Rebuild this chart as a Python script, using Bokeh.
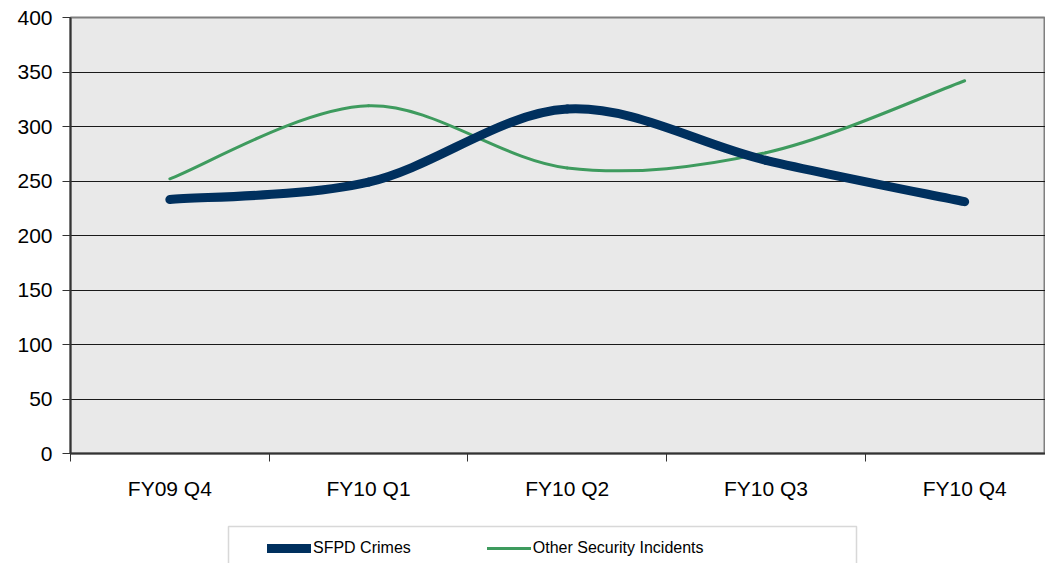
from bokeh.plotting import figure
from bokeh.layouts import column
from bokeh.models import (Range1d, FixedTicker, LinearAxis, Legend, LegendItem,
                          BoxAnnotation, ColumnDataSource)
from bokeh.embed import file_html
from bokeh.resources import INLINE

categories = ["FY09 Q4", "FY10 Q1", "FY10 Q2", "FY10 Q3", "FY10 Q4"]
sfpd_crimes = [233, 249, 316, 269, 231]
other_incidents = [252, 319, 262, 276, 342]
y_ticks = [0, 50, 100, 150, 200, 250, 300, 350, 400]
series_names = ["SFPD Crimes", "Other Security Incidents"]

SFPD_COLOR = "#00305E"
OTHER_COLOR = "#3E9B5E"
FONT = "'Liberation Sans', Arial, sans-serif"
AXFONT = "'Liberation Sans', Arial, sans-serif"


def smooth_segments(ys):
    """Bezier control points (Excel-like smoothing) in data space."""
    n = len(ys)
    xs = list(range(n))
    d = dict(x0=[], y0=[], x1=[], y1=[], cx0=[], cy0=[], cx1=[], cy1=[])
    for i in range(n - 1):
        im = max(i - 1, 0)
        ip = min(i + 2, n - 1)
        d["x0"].append(xs[i]); d["y0"].append(ys[i])
        d["x1"].append(xs[i + 1]); d["y1"].append(ys[i + 1])
        d["cx0"].append(xs[i] + (xs[i + 1] - xs[im]) / 6)
        d["cy0"].append(ys[i] + (ys[i + 1] - ys[im]) / 6)
        d["cx1"].append(xs[i + 1] - (xs[ip] - xs[i]) / 6)
        d["cy1"].append(ys[i + 1] - (ys[ip] - ys[i]) / 6)
    return ColumnDataSource(d)


W = 1045
H1, H2 = 520, 43
LEFT, TOP = 70, 17
FRAME_BOTTOM = 453
frame_w = W - LEFT
px_per_cat = 198.7

p = figure(width=W, height=H1, output_backend="svg", toolbar_location=None,
           x_range=Range1d(-0.5, -0.5 + frame_w / px_per_cat), y_range=Range1d(0, 400),
           x_axis_type=None, min_border_left=LEFT, min_border_right=0,
           min_border_top=TOP, min_border_bottom=H1 - FRAME_BOTTOM)

p.background_fill_color = "#E9E9E9"
p.border_fill_color = "white"
p.outline_line_color = "#7F7F7F"
p.outline_line_width = 2

# y axis
ya = p.yaxis[0]
ya.ticker = FixedTicker(ticks=y_ticks)
ya.axis_line_color = "#333333"
ya.axis_line_width = 2
ya.major_tick_line_color = "#333333"
ya.major_tick_out = 8
ya.major_tick_in = 0
ya.minor_tick_line_color = None
ya.major_label_standoff = 10
ya.major_label_text_font = AXFONT
ya.major_label_text_font_size = "21px"
ya.major_label_text_color = "black"

# x axis
xa = LinearAxis(ticker=FixedTicker(ticks=list(range(len(categories))),
                                   minor_ticks=[i - 0.5 for i in range(len(categories) + 1)]))
xa.major_label_overrides = {i: c for i, c in enumerate(categories)}
xa.axis_line_color = "#333333"
xa.axis_line_width = 2
xa.major_tick_line_color = None
xa.major_tick_out = 0
xa.major_tick_in = 0
xa.minor_tick_line_color = "#333333"
xa.minor_tick_out = 8
xa.minor_tick_in = 0
xa.major_label_standoff = 15
xa.major_label_text_font = AXFONT
xa.major_label_text_font_size = "21px"
xa.major_label_text_color = "black"
p.add_layout(xa, "below")

p.xgrid.grid_line_color = None
p.ygrid.ticker = FixedTicker(ticks=y_ticks[1:-1])
p.ygrid.grid_line_color = "#1A1A1A"
p.ygrid.grid_line_width = 1

p.bezier(x0="x0", y0="y0", x1="x1", y1="y1", cx0="cx0", cy0="cy0",
         cx1="cx1", cy1="cy1", source=smooth_segments(other_incidents),
         line_color=OTHER_COLOR, line_width=3, line_cap="round")
p.bezier(x0="x0", y0="y0", x1="x1", y1="y1", cx0="cx0", cy0="cy0",
         cx1="cx1", cy1="cy1", source=smooth_segments(sfpd_crimes),
         line_color=SFPD_COLOR, line_width=9, line_cap="round")

# legend strip
p2 = figure(width=W, height=H2, output_backend="svg", toolbar_location=None,
            x_range=Range1d(0, 1), y_range=Range1d(0, 1),
            x_axis_location=None, y_axis_location=None,
            min_border=0, min_border_left=0, min_border_right=0,
            min_border_top=0, min_border_bottom=0)
p2.outline_line_color = None
p2.grid.grid_line_color = None
p2.background_fill_color = "white"
p2.border_fill_color = "white"

# off-range proxy lines used only for legend swatches
l_sfpd = p2.line(x=[-10, -9], y=[-10, -10], line_color=SFPD_COLOR, line_width=9, line_cap="round")
l_other = p2.line(x=[-10, -9], y=[-10, -10], line_color=OTHER_COLOR, line_width=3, line_cap="round")

box = BoxAnnotation(left=228, right=856, top=6, bottom=60,
                    left_units="canvas", right_units="canvas",
                    top_units="canvas", bottom_units="canvas",
                    fill_color="white", fill_alpha=1.0,
                    line_color="#7F7F7F", line_width=1.5)
p2.add_layout(box)

legend = Legend(items=[LegendItem(label=series_names[0], renderers=[l_sfpd]),
                       LegendItem(label=series_names[1], renderers=[l_other])],
                location=(197, 5), orientation="horizontal",
                padding=0, margin=0, spacing=76, glyph_width=44, glyph_height=20,
                label_height=20, label_standoff=2,
                label_text_font=FONT, label_text_font_size="16px",
                label_text_color="black",
                border_line_color=None, background_fill_alpha=0)
p2.add_layout(legend, "center")

open("out.html", "w").write(file_html(column(p, p2, spacing=0), INLINE))
